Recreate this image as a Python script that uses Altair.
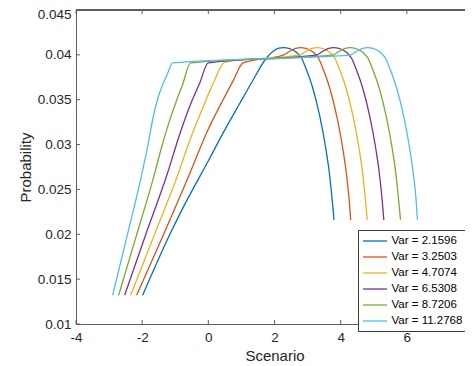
import altair as alt
import pandas as pd

labels = ["Var = 2.1596", "Var = 3.2503", "Var = 4.7074",
          "Var = 6.5308", "Var = 8.7206", "Var = 11.2768"]
colors = ["#0072BD", "#D95319", "#EDB120", "#7E2F8E", "#77AC30", "#4DBEEE"]

drop_y = [0.0400, 0.0404, 0.04073, 0.0408, 0.04073, 0.04049, 0.04015, 0.03959,
          0.03854, 0.03631, 0.03319, 0.02962, 0.0265, 0.02382, 0.0216]

blue_x = [-1.986, -1.162, -0.760, 0.046, 0.447, 0.952, 1.353, 1.707, 1.957, 2.130, 2.280,
          2.431, 2.582, 2.703, 2.823, 2.944, 3.156, 3.367, 3.548, 3.669, 3.744, 3.800]
blue_y = [0.0132, 0.0200, 0.0230, 0.0285, 0.0313, 0.0346, 0.0372, 0.0394, 0.0404, 0.04075,
          0.0408, 0.04073, 0.04049, 0.04015, 0.03959, 0.03854, 0.03631, 0.03319,
          0.02962, 0.0265, 0.02382, 0.0216]

red_x = [-2.167, -1.363, -0.558, -0.054, 0.447, 0.749, 1.051,
         2.280, 2.461, 2.642, 2.793, 2.944, 3.095, 3.216, 3.336, 3.457, 3.669,
         3.880, 4.061, 4.182, 4.257, 4.303]
red_y = [0.0132, 0.0199, 0.0268, 0.0313, 0.0350, 0.0371, 0.0391] + drop_y

yellow_x = [-2.348, -1.636, -0.925, -0.558, -0.157, 0.145, 0.499,
            2.773, 2.954, 3.135, 3.286, 3.437, 3.588, 3.709, 3.829, 3.950, 4.162,
            4.373, 4.554, 4.675, 4.750, 4.800]
yellow_y = [0.0132, 0.0199, 0.0266, 0.0305, 0.0342, 0.0368, 0.0392] + drop_y

purple_x = [-2.530, -1.899, -1.252, -0.860, -0.558, -0.256, -0.005,
            3.277, 3.458, 3.639, 3.790, 3.941, 4.092, 4.213, 4.333, 4.454, 4.666,
            4.877, 5.058, 5.179, 5.254, 5.305]
purple_y = [0.0132, 0.0199, 0.0266, 0.0312, 0.0343, 0.0369, 0.0391] + drop_y

green_x = [-2.711, -2.170, -1.636, -1.413, -1.213, -0.981, -0.778, -0.537,
           3.775, 3.956, 4.137, 4.288, 4.439, 4.590, 4.711, 4.831, 4.952, 5.164,
           5.375, 5.556, 5.677, 5.752, 5.810]
green_y = [0.0132, 0.0199, 0.0266, 0.0297, 0.0322, 0.0347, 0.0367, 0.0391] + drop_y

cyan_x = [-2.892, -2.450, -2.017, -1.817, -1.666, -1.515, -1.364, -1.213, -1.080,
          4.303, 4.484, 4.665, 4.816, 4.967, 5.118, 5.239, 5.359, 5.480, 5.692,
          5.903, 6.084, 6.205, 6.280, 6.320]
cyan_y = [0.0132, 0.0199, 0.0266, 0.0301, 0.0331, 0.0353, 0.0368, 0.0381, 0.0391] + drop_y

x_ticks = [-4, -2, 0, 2, 4, 6, 8]
y_ticks = [0.01, 0.015, 0.02, 0.025, 0.03, 0.035, 0.04, 0.045]

series_x = [blue_x, red_x, yellow_x, purple_x, green_x, cyan_x]
series_y = [blue_y, red_y, yellow_y, purple_y, green_y, cyan_y]

rows = []
for lab, xs, ys in zip(labels, series_x, series_y):
    for i, (xv, yv) in enumerate(zip(xs, ys)):
        rows.append({"series": lab, "x": xv, "y": yv, "i": i})
df = pd.DataFrame(rows)

W, H = 389, 314      # visible part of the plot area
XR = 397             # full axis length (the right edge falls just outside the window)
FONT = "Liberation Sans"
AX = "#5f5f5f"
TXT = "#262626"

xscale = alt.Scale(domain=[-4, 8], range=[0, XR], nice=False, zero=False)
yscale = alt.Scale(domain=[0.01, 0.045], nice=False, zero=False)

lines = alt.Chart(df).mark_line(strokeWidth=1.3, interpolate="monotone").encode(
    x=alt.X("x:Q", scale=xscale,
            axis=alt.Axis(values=x_ticks, ticks=False, grid=False,
                          labelExpr="datum.value < 0 ? '-' + abs(datum.value) : '' + datum.value",
                          labelFontSize=13.5, labelColor=TXT, labelFont=FONT,
                          labelFlush=False, labelOverlap=False, labelPadding=6,
                          domainColor=AX, title="Scenario", titleFont=FONT,
                          titleFontSize=15, titleFontWeight="normal",
                          titleColor=TXT, titleBaseline="alphabetic", titleY=36,
                          titleX=XR / 2)),
    y=alt.Y("y:Q", scale=yscale,
            axis=alt.Axis(values=y_ticks, ticks=False, grid=False, format="~g",
                          labelFontSize=13.5, labelColor=TXT, labelFont=FONT,
                          labelFlush=False, labelOverlap=False, labelPadding=5,
                          labelOffset={"condition": {"test": "datum.value > 0.044", "value": 4.5},
                                       "value": 0},
                          domainColor=AX, title="Probability", titleFont=FONT,
                          titleFontSize=15, titleFontWeight="normal",
                          titleColor=TXT, titlePadding=4)),
    color=alt.Color("series:N", scale=alt.Scale(domain=labels, range=colors),
                    legend=alt.Legend(title=None, orient="none", legendX=282,
                                      legendY=220, direction="vertical",
                                      strokeColor="#3a3a3a", fillColor="white",
                                      padding=4, labelFontSize=11.5, labelFont=FONT,
                                      labelColor="#000000",
                                      symbolType="M-1,0H3", symbolSize=144,
                                      symbolStrokeWidth=1.3, labelOffset=15.5,
                                      rowPadding=3)),
    order="i:O",
)

xt = pd.DataFrame({"t": x_ticks})
yt = pd.DataFrame({"t": y_ticks})

bottom_ticks = alt.Chart(xt).mark_rule(color=AX, strokeWidth=1).encode(
    x=alt.X("t:Q", scale=xscale), y=alt.value(H), y2=alt.value(H - 4))
top_ticks = alt.Chart(xt).mark_rule(color=AX, strokeWidth=1).encode(
    x=alt.X("t:Q", scale=xscale), y=alt.value(0), y2=alt.value(4))
left_ticks = alt.Chart(yt).mark_rule(color=AX, strokeWidth=1).encode(
    y=alt.Y("t:Q", scale=yscale), x=alt.value(0), x2=alt.value(4))
top_border = alt.Chart(xt).mark_rule(color=AX, strokeWidth=1).encode(
    x=alt.value(0), x2=alt.value(XR), y=alt.value(0))

chart = alt.layer(lines, bottom_ticks, top_ticks, left_ticks, top_border).properties(
    width=W, height=H,
    autosize=alt.AutoSizeParams(type="none"),
    padding={"left": 68, "top": 2, "right": 0, "bottom": 40},
).configure_view(strokeWidth=0).configure(background="white")

chart.save("out.html", embed_options={"renderer": "svg", "actions": False})
